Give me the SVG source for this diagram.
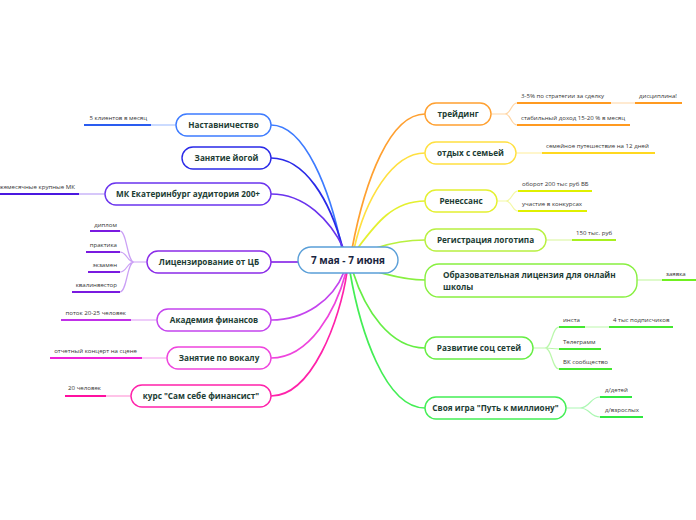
<svg xmlns="http://www.w3.org/2000/svg" width="696" height="520" viewBox="0 0 696 520">
<style>
.bg{fill:#fff}
.node rect{fill:#fff;stroke-width:1.4}
.nt{font-family:"Open Sans","Liberation Sans",sans-serif;font-weight:bold;font-size:8.2px;fill:#1d3d34;text-anchor:middle}
.ntl{font-family:"Open Sans","Liberation Sans",sans-serif;font-weight:bold;font-size:8.2px;fill:#1d3d34;text-anchor:start}
.ct{font-family:"Open Sans","Liberation Sans",sans-serif;font-weight:bold;font-size:10px;fill:#1a2540;text-anchor:middle}
.lt{font-family:"Open Sans","Liberation Sans",sans-serif;font-size:6.1px;fill:#333}
.ltr{font-family:"Open Sans","Liberation Sans",sans-serif;font-size:6.1px;fill:#333;text-anchor:end}
.main path{fill:none;stroke-width:1.7}
.leaf{fill:none;stroke-width:2}
.pale{fill:none;stroke-width:1.2;opacity:0.45}
</style>
<rect class="bg" x="0" y="0" width="696" height="520"/>
<g id="connectors">
 <g class="main">
  <path d="M271,125 C305,125 330,190 342,249" stroke="#3d7bff"/>
  <path d="M271,158 C305,158 330,200 343,249" stroke="#2a2ae8"/>
  <path d="M271,194 C305,194 330,220 344,249" stroke="#6a33ee"/>
  <path d="M271,262 L298,262" stroke="#8a2be8"/>
  <path d="M271,320 C305,320 333,300 344,272" stroke="#c444ee"/>
  <path d="M271,358 C310,358 336,310 346,272" stroke="#ee44dd"/>
  <path d="M271,396 C312,396 340,320 347,272" stroke="#ff22aa"/>
  <path d="M425,114 C390,114 365,180 352,249" stroke="#ffa030"/>
  <path d="M425,153 C392,153 365,200 354,249" stroke="#ffe040"/>
  <path d="M425,201 C392,201 375,225 357,249" stroke="#e4f030"/>
  <path d="M425,240 C400,240 385,245 376,248" stroke="#b8f040"/>
  <path d="M425,280 C405,280 390,275 378,272" stroke="#88f040"/>
  <path d="M425,348 C390,348 365,310 353,272" stroke="#66ee44"/>
  <path d="M425,408 C385,408 360,330 350,272" stroke="#44ee55"/>
 </g>
 <path class="pale" d="M151,125 L176,125" stroke="#3d7bff"/>
 <path class="leaf" d="M84,125 L151,125" stroke="#2a5cf0"/>
 <path class="pale" d="M79,194 L105,194" stroke="#6a33ee"/>
 <path class="leaf" d="M0,194 L79,194" stroke="#4a18e0"/>
 <path class="pale" d="M147,262 L134,262 C127,262 127,231 120,231 M134,262 C127,262 127,252 120,252 M134,262 C127,262 127,272 120,272 M134,262 C127,262 127,292 120,292" stroke="#8a2be8"/>
 <path class="leaf" d="M90,231 L120,231 M86,252 L120,252 M88,272 L120,272 M72,292 L120,292" stroke="#7a1ae0"/>
 <path class="pale" d="M131,320 L157,320" stroke="#c444ee"/>
 <path class="leaf" d="M61,320 L131,320" stroke="#c030e8"/>
 <path class="pale" d="M142,358 L167,358" stroke="#ee44dd"/>
 <path class="leaf" d="M50,358 L142,358" stroke="#ee20d8"/>
 <path class="pale" d="M106,396 L131,396" stroke="#ff22aa"/>
 <path class="leaf" d="M65,396 L106,396" stroke="#ff10a0"/>
 <path class="pale" d="M491,114 L505,114 C511,114 511,103 517,103 M505,114 C511,114 511,125 517,125 M611,103 L635,103" stroke="#ffa030"/>
 <path class="leaf" d="M517,103 L611,103 M635,103 L682,103 M517,125 L630,125" stroke="#ff9a20"/>
 <path class="pale" d="M516,153 L542,153" stroke="#ffe040"/>
 <path class="leaf" d="M542,153 L655,153" stroke="#ffd820"/>
 <path class="pale" d="M497,201 L506,201 C512,201 512,191 518,191 M506,201 C512,201 512,211 518,211" stroke="#e4f030"/>
 <path class="leaf" d="M518,191 L592,191 M518,211 L587,211" stroke="#e0f000"/>
 <path class="pale" d="M546,240 L572,240" stroke="#b8f040"/>
 <path class="leaf" d="M572,240 L616,240" stroke="#a8f020"/>
 <path class="pale" d="M637,280 L662,280" stroke="#88f040"/>
 <path class="leaf" d="M662,280 L696,280" stroke="#70f020"/>
 <path class="pale" d="M533,348 L545,348 C552,348 552,327 559,327 M545,348 L559,349 M545,348 C552,348 552,369 559,369 M585,327 L609,327" stroke="#66ee44"/>
 <path class="leaf" d="M559,327 L585,327 M609,327 L673,327 M559,349 L601,349 M559,369 L612,369" stroke="#44e830"/>
 <path class="pale" d="M566,408 L580,408 C590,408 590,397 600,397 M580,408 C590,408 590,417 600,417" stroke="#44ee55"/>
 <path class="leaf" d="M600,397 L632,397 M600,417 L643,417" stroke="#30e840"/>
</g>
<g id="center" class="node"><rect x="298" y="247" width="100" height="26" rx="13" stroke="#5a9fd8"/><text class="ct" x="348" y="264">7 мая - 7 июня</text></g>
<g id="n-mentor" class="node"><rect x="176" y="114" width="95" height="22" rx="11" stroke="#3d7bff"/><text class="nt" x="223.5" y="128">Наставничество</text>
 <text class="ltr" x="147" y="120">5 клиентов в месяц</text></g>
<g id="n-yoga" class="node"><rect x="182" y="147" width="89" height="22" rx="11" stroke="#2a2ae8"/><text class="nt" x="226.5" y="161">Занятие йогой</text></g>
<g id="n-mk" class="node"><rect x="105" y="183" width="166" height="22" rx="11" stroke="#6a33ee"/><text class="nt" x="188" y="197">МК Екатеринбург аудитория 200+</text>
 <text class="ltr" x="75" y="189">ежемесячные крупные МК</text></g>
<g id="n-lic" class="node"><rect x="147" y="251" width="124" height="22" rx="11" stroke="#8a2be8"/><text class="nt" x="209" y="265">Лицензирование от ЦБ</text>
 <text class="ltr" x="117" y="227">диплом</text>
 <text class="ltr" x="117" y="247">практика</text>
 <text class="ltr" x="117" y="267">экзамен</text>
 <text class="ltr" x="117" y="287">квалинвестор</text></g>
<g id="n-acad" class="node"><rect x="157" y="309" width="114" height="22" rx="11" stroke="#c444ee"/><text class="nt" x="214" y="323">Академия финансов</text>
 <text class="ltr" x="126" y="315">поток 20-25 человек</text></g>
<g id="n-vocal" class="node"><rect x="167" y="347" width="104" height="22" rx="11" stroke="#ee44dd"/><text class="nt" x="219" y="361">Занятие по вокалу</text>
 <text class="ltr" x="137" y="353">отчетный концерт на сцене</text></g>
<g id="n-course" class="node"><rect x="131" y="385" width="140" height="22" rx="11" stroke="#ff22aa"/><text class="nt" x="201" y="399">курс "Сам себе финансист"</text>
 <text class="ltr" x="101" y="390">20 человек</text></g>
<g id="n-trade" class="node"><rect x="425" y="103" width="66" height="22" rx="11" stroke="#ffa030"/><text class="nt" x="458" y="117">трейдинг</text>
 <text class="lt" x="521" y="98">3-5%  по стратегии за сделку</text>
 <text class="lt" x="639" y="98">дисциплина!</text>
 <text class="lt" x="521" y="120">стабильный доход 15-20 % в месяц</text></g>
<g id="n-family" class="node"><rect x="425" y="142" width="91" height="22" rx="11" stroke="#ffe040"/><text class="nt" x="470.5" y="156">отдых с семьей</text>
 <text class="lt" x="546" y="148">семейное путешествие на 12 дней</text></g>
<g id="n-ren" class="node"><rect x="425" y="190" width="72" height="22" rx="11" stroke="#e4f030"/><text class="nt" x="461" y="204">Ренессанс</text>
 <text class="lt" x="522" y="186">оборот 200 тыс руб ВБ</text>
 <text class="lt" x="522" y="206">участие в конкурсах</text></g>
<g id="n-logo" class="node"><rect x="425" y="229" width="121" height="22" rx="11" stroke="#b8f040"/><text class="nt" x="485.5" y="243">Регистрация логотипа</text>
 <text class="lt" x="576" y="235">150 тыс. руб</text></g>
<g id="n-edu" class="node"><rect x="425" y="264" width="212" height="33" rx="14" stroke="#88f040"/><text class="ntl" x="443" y="278">Образовательная лицензия для онлайн</text><text class="ntl" x="443" y="290">школы</text>
 <text class="lt" x="666" y="276">заявка</text></g>
<g id="n-social" class="node"><rect x="425" y="337" width="108" height="22" rx="11" stroke="#66ee44"/><text class="nt" x="479" y="351">Развитие соц сетей</text>
 <text class="lt" x="563" y="322">инста</text>
 <text class="lt" x="613" y="322">4 тыс подписчиков</text>
 <text class="lt" x="563" y="344">Телеграмм</text>
 <text class="lt" x="563" y="364">ВК сообщество</text></g>
<g id="n-game" class="node"><rect x="425" y="397" width="141" height="22" rx="11" stroke="#44ee55"/><text class="nt" x="495.5" y="411">Своя игра "Путь к миллиону"</text>
 <text class="lt" x="605" y="392">д/детей</text>
 <text class="lt" x="605" y="412">д/взрослых</text></g>
</svg>
